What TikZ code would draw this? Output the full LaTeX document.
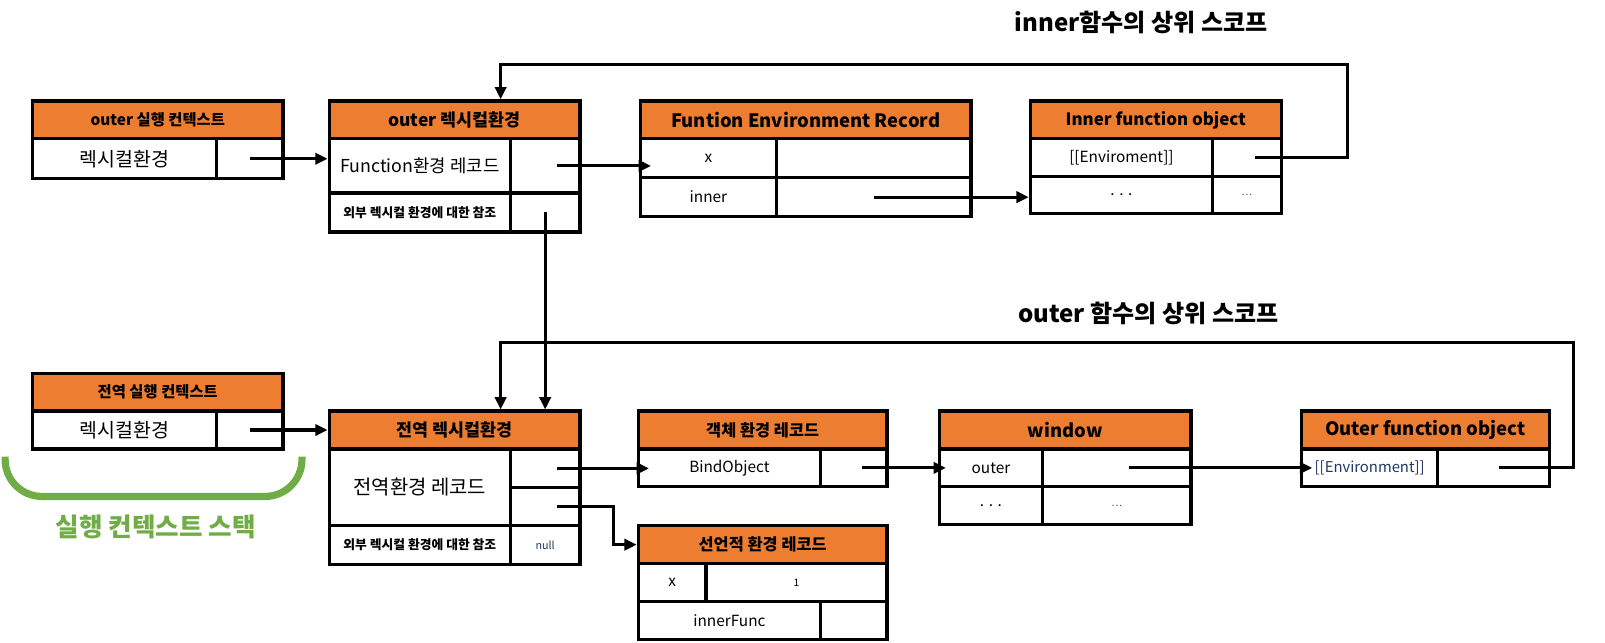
\documentclass[tikz,border=0pt]{standalone}
\usepackage{fontspec}
\setmainfont{Noto Sans CJK KR}
\usetikzlibrary{arrows.meta}
\definecolor{hdorange}{HTML}{ED7D31}
\definecolor{stackgreen}{HTML}{70AD47}
\definecolor{refnavy}{HTML}{1F3864}
\newcommand\fs[1]{\fontsize{#1}{#1}\selectfont}
\begin{document}
\begin{tikzpicture}[x=1pt, y=-1pt, line width=3pt, >={Triangle[length=12pt,width=11pt]}]
	\tikzset{cell/.style 2 args={draw, line width=3.2pt, anchor=north west, inner sep=0pt, minimum width=#1, minimum height=#2, font=\fs{15}},
		hd/.style 2 args={cell={#1}{#2}, fill=hdorange, font=\fs{16}\bfseries},
		hdsmall/.style={font=\fs{15}\bfseries},
		hdlatin/.style={font=\fs{18}\bfseries},
		big/.style={font=\fs{19}},
		tiny/.style={font=\fs{12.5}\bfseries},
		dots/.style={font=\fs{10}, text=black!70},
		title/.style={font=\fs{23.5}\bfseries}}
	\useasboundingbox (0,0) rectangle (1568,628);
	% outer 실행 컨텍스트
	\node[hd={245}{37}, hdsmall] (oec-h) at (30,97) {outer 실행 컨텍스트};
	\node[cell={180}{39}, big] (oec-l) at (30,134) {렉시컬환경};
	\node[cell={65}{39}] (oec-v) at (210,134) {};
	% outer 렉시컬환경
	\node[hd={245}{37}, font=\fs{17}\bfseries] (olex-h) at (320,97) {outer 렉시컬환경};
	\node[cell={177}{53}, font=\fs{17.4}] (olex-l) at (320,134) {Function환경 레코드};
	\node[cell={68}{53}] (olex-r) at (497,134) {};
	\node[cell={177}{38}, tiny] (olex-ol) at (320,187) {외부 렉시컬 환경에 대한 참조};
	\node[cell={68}{38}] (olex-o) at (497,187) {};
	% Funtion Environment Record
	\node[hd={323}{37}, hdlatin] (fer-h) at (624,97) {Funtion Environment Record};
	\node[cell={133}{38}] (fer-x) at (624,134) {x};
	\node[cell={190}{38}] (fer-xv) at (757,134) {};
	\node[cell={133}{38}] (fer-i) at (624,172) {inner};
	\node[cell={190}{38}] (fer-inner) at (757,172) {};
	% Inner function object
	\node[hd={245}{37}, font=\fs{16.5}\bfseries] (ifo-h) at (1005,97) {Inner function object};
	\node[cell={178}{37}] (ifo-e) at (1005,134) {[[Enviroment]]};
	\node[cell={67}{37}] (ifo-env) at (1183,134) {};
	\node[cell={178}{36}] (ifo-d) at (1005,171) {. . .};
	\node[cell={67}{36}, dots] (ifo-dv) at (1183,171) {…};
	% 전역 실행 컨텍스트
	\node[hd={245}{37}, hdsmall] (gec-h) at (30,363) {전역 실행 컨텍스트};
	\node[cell={180}{37}, big] (gec-l) at (30,400) {렉시컬환경};
	\node[cell={65}{37}] (gec-v) at (210,400) {};
	% 전역 렉시컬환경
	\node[hd={245}{37}, font=\fs{17}\bfseries] (glex-h) at (320,400) {전역 렉시컬환경};
	\node[cell={177}{75}, font=\fs{19.5}] (glex-l) at (320,437) {전역환경 레코드};
	\node[cell={68}{38}] (glex-obj) at (497,437) {};
	\node[cell={68}{37}] (glex-dec) at (497,475) {};
	\node[cell={177}{38}, tiny] (glex-ol) at (320,512) {외부 렉시컬 환경에 대한 참조};
	\node[cell={68}{38}, font=\fs{10.5}, text=refnavy] (glex-o) at (497,512) {null};
	% 객체 환경 레코드
	\node[hd={243}{37}] (oer-h) at (622,400) {객체 환경 레코드};
	\node[cell={178}{37}] (oer-b) at (622,437) {BindObject};
	\node[cell={65}{37}] (oer-v) at (800,437) {};
	% 선언적 환경 레코드
	\node[hd={243}{37}] (der-h) at (622,512) {선언적 환경 레코드};
	\node[cell={66}{37}] (der-x) at (622,549) {x};
	\node[cell={177}{37}, font=\fs{10}] (der-xv) at (688,549) {1};
	\node[cell={178}{37}] (der-f) at (622,586) {innerFunc};
	\node[cell={65}{37}] (der-fv) at (800,586) {};
	% window
	\node[hd={246}{37}, hdlatin] (win-h) at (916,400) {window};
	\node[cell={101}{37}] (win-o) at (916,437) {outer};
	\node[cell={145}{37}] (win-outer) at (1017,437) {};
	\node[cell={101}{37}] (win-d) at (916,474) {. . .};
	\node[cell={145}{37}, dots] (win-dv) at (1017,474) {…};
	% Outer function object
	\node[hd={242}{37}, hdlatin] (ofo-h) at (1270,400) {Outer function object};
	\node[cell={133}{37}, font=\fs{14.5}, text=refnavy] (ofo-e) at (1270,437) {[[Environment]]};
	\node[cell={109}{37}] (ofo-env) at (1403,437) {};
	% 스코프 제목
	\node[title] (t-inner) at (1115,22) {inner함수의 상위 스코프};
	\node[title] (t-outer) at (1122,306) {outer 함수의 상위 스코프};
	% 실행 컨텍스트 스택
	\draw[stackgreen, line width=7pt, rounded corners=36pt] (5,446) -- (5,485) -- (295,485) -- (295,446);
	\node[font=\fs{25}\bfseries, text=stackgreen] (stk) at (152,515) {실행 컨텍스트 스택};
	% 화살표
	\coordinate (loop1) at (1316,63);
	\coordinate (loop2) at (1537,335);
	\draw[->] (oec-v.center) -- (oec-v.center -| olex-h.west);
	\draw[->] ([xshift=12]olex-r.center) -- ([xshift=12]olex-r.center -| fer-h.west);
	\draw[->] (fer-inner.center) -- (fer-inner.center -| ifo-h.west);
	\draw[->] ([xshift=8]ifo-env.center) -| (loop1) -| ([xshift=45]olex-h.north);
	\draw[->] (olex-o.center) -- (olex-o.center |- glex-h.north);
	\draw[->] (gec-v.center) -- (gec-v.center -| glex-h.west);
	\draw[->] ([xshift=12]glex-obj.center) -- ([xshift=12]glex-obj.center -| oer-h.west);
	\draw[->] ([xshift=12]glex-dec.center) -- ++(55,0) |- (der-h.west);
	\draw[->] ([xshift=8]oer-v.center) -- ([xshift=8]oer-v.center -| win-h.west);
	\draw[->] ([xshift=12]win-outer.center) -- ([xshift=12]win-outer.center -| ofo-h.west);
	\draw[->] ([xshift=5]ofo-env.center) -| (loop2) -| ([xshift=45]glex-h.north);
\end{tikzpicture}
\end{document}
